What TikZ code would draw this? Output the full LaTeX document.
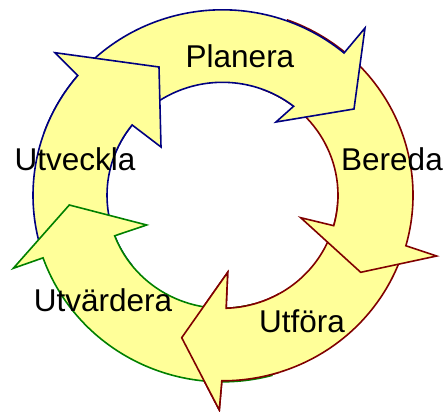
\documentclass[tikz,border=0pt]{standalone}
\usepackage{fontspec}
\setmainfont{Liberation Sans}
\definecolor{cycfill}{HTML}{FFFF99}
\definecolor{cycblue}{HTML}{000080}
\definecolor{cycred}{HTML}{800000}
\definecolor{cycgreen}{HTML}{008000}
% ring radii (outer / inner, x and y)
\def\Rox{189.5}\def\Roy{185.5}
\def\Rix{115.5}\def\Riy{113}
% #1 colour, #2 tail angle, #3 outer notch angle, #4 outer barb,
% #5 tip, #6 inner barb, #7 inner notch angle
\newcommand\ringarrow[7]{%
  \draw[arrowshape, draw=#1]
    (#2:\Rox\space and \Roy)
    arc[start angle=#2, end angle=#3, x radius=\Rox, y radius=\Roy]
    -- #4 -- #5 -- #6 -- (#7:\Rix\space and \Riy)
    arc[start angle=#7, end angle=#2, x radius=\Rix, y radius=\Riy]
    -- cycle;}
\newcommand\utforaarrow{%
  \ringarrow{cycred}{4}{-90.2}{(-3.2,-214.7)}{(-40.8,-142.4)}{(5.2,-77)}{-88.2}}
\begin{document}
\begin{tikzpicture}[x=1pt,y=1pt,
  arrowshape/.style={fill=cycfill, line width=1.6pt, line join=miter},
  lbl/.style={font=\fontsize{31.5}{31.5}\selectfont, anchor=base, inner sep=0pt}]
\useasboundingbox (0,0) rectangle (445,-412);
\begin{scope}[shift={(222.5,-195.3)}]
  % each head lies over the tail of the next arrow
  % Utföra
  \utforaarrow
  % Bereda
  {\def\Rox{190.5}\def\Roy{186.5}%
   \ringarrow{cycred}{70}{-15.7}{(214.2,-60.7)}{(138.2,-77)}{(78.2,-22.4)}{-15.6}}
  % Planera
  \ringarrow{cycblue}{160}{50.1}{(142.5,167.3)}{(131.5,86.3)}{(53.5,73.3)}{52}
  % Utveckla
  \ringarrow{cycblue}{218}{139.8}{(-167.5,142.6)}{(-63.5,128.3)}{(-61.5,48.3)}{141.5}
  % Utvärdera
  {\def\Rox{190.5}\def\Roy{186.5}%
   \ringarrow{cycgreen}{-75}{-160.4}{(-209.2,-73)}{(-153.2,-9.7)}{(-75.8,-29.7)}{-159}}
  % head of Utföra again, over the tail of Utvärdera
  \begin{scope}
    \clip (-120,-40) rectangle (57,-240);
    \utforaarrow
  \end{scope}
\end{scope}
\node[lbl] (planera) at (240,-68) {Planera};
\node[lbl] (utveckla) at (75,-170) {Utveckla};
\node[lbl] (bereda) at (392,-170) {Bereda};
\node[lbl] (utvardera) at (103,-311) {Utvärdera};
\node[lbl] (utfora) at (302,-332) {Utföra};
\end{tikzpicture}
\end{document}
